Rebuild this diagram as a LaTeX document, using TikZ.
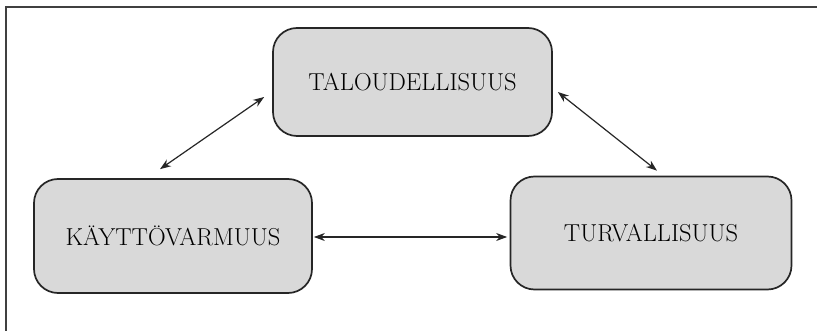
\documentclass[tikz,border=0pt]{standalone}
\usetikzlibrary{arrows.meta}
\begin{document}
\begin{tikzpicture}[x=1pt,y=-1pt,
  boxnode/.style={draw=black!85, line width=1.7pt, fill=black!15, rounded corners=24pt,
    font=\fontsize{24.5}{28}\selectfont, text=black, inner sep=0pt},
  link/.style={line width=1.2pt, black!85, {Stealth[length=11pt,width=8pt]}-{Stealth[length=11pt,width=8pt]}}]
\useasboundingbox (0,0) rectangle (817,331);
\fill[white] (0,0) rectangle (817,331);
\draw[black!75, line width=1.6pt] (6,331) -- (6,7) -- (817,7);
\node[boxnode, minimum width=279pt, minimum height=108pt] (tal) at (412.5,82) {TALOUDELLISUUS};
\node[boxnode, minimum width=278pt, minimum height=114pt] (kay) at (173,236) {KÄYTTÖVARMUUS};
\node[boxnode, minimum width=281pt, minimum height=113pt] (tur) at (651,233) {TURVALLISUUS};
\draw[link] ([xshift=-13pt,yshift=9pt]kay.north) -- ([xshift=-8pt,yshift=-15pt]tal.west);
\draw[link] ([xshift=5pt,yshift=-10pt]tal.east) -- ([xshift=6pt,yshift=5pt]tur.north);
\draw[link] ([xshift=1pt,yshift=-1pt]kay.east) -- ([xshift=-2.5pt,yshift=-4pt]tur.west);
\end{tikzpicture}
\end{document}
